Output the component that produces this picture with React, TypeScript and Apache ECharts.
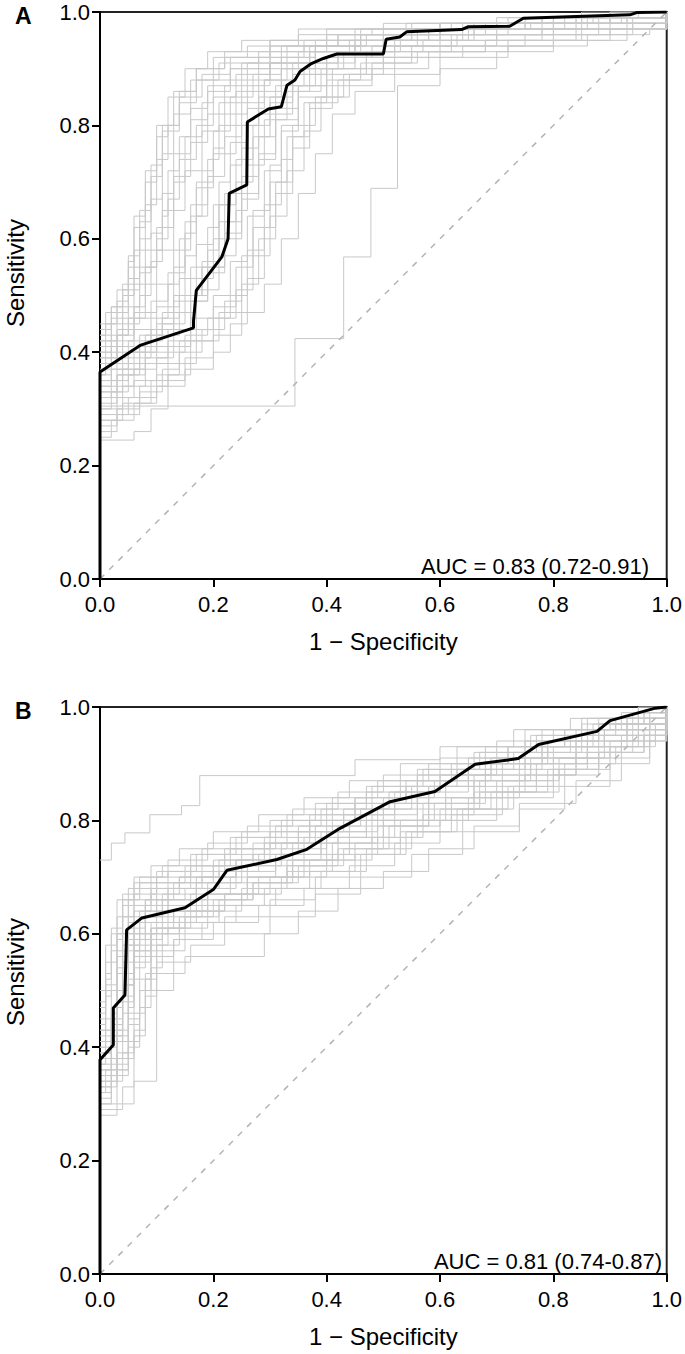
import React, { useEffect, useRef } from "react";
import * as echarts from "echarts";

// Tick values shared by both axes
const tickValues = [0, 0.2, 0.4, 0.6, 0.8, 1.0];

// Panel A: main ROC curve (1 - specificity, sensitivity)
const rocMainA: number[][] = [
  [0, 0], [0, 0.365], [0.0706, 0.412], [0.165, 0.443], [0.165, 0.455], [0.17, 0.509],
  [0.215, 0.568], [0.226, 0.6], [0.228, 0.68], [0.259, 0.695], [0.26, 0.806],
  [0.297, 0.829], [0.32, 0.833], [0.33, 0.871], [0.344, 0.88], [0.353, 0.895],
  [0.373, 0.909], [0.394, 0.918], [0.418, 0.926], [0.5, 0.926], [0.505, 0.952],
  [0.529, 0.956], [0.541, 0.965], [0.638, 0.969], [0.65, 0.974], [0.723, 0.975],
  [0.747, 0.989], [0.935, 0.995], [0.947, 0.999], [1, 1]
];

// Panel A: bootstrap ROC curves (step points)
const bootA: number[][][] = [
  [[0,0.42],[0.02,0.45],[0.04,0.5],[0.06,0.58],[0.08,0.66],[0.1,0.74],[0.12,0.8],[0.14,0.86],[0.17,0.9],[0.22,0.93],[0.3,0.95],[0.45,0.97],[0.6,0.98],[0.8,0.99],[0.95,1],[1,1]],
  [[0,0.4],[0.03,0.43],[0.06,0.48],[0.08,0.55],[0.1,0.62],[0.13,0.7],[0.15,0.78],[0.18,0.84],[0.2,0.88],[0.25,0.91],[0.33,0.94],[0.42,0.96],[0.55,0.97],[0.7,0.98],[0.9,0.99],[1,1]],
  [[0,0.36],[0.02,0.39],[0.05,0.42],[0.09,0.46],[0.12,0.52],[0.14,0.6],[0.16,0.66],[0.19,0.74],[0.21,0.8],[0.24,0.86],[0.28,0.9],[0.35,0.93],[0.45,0.95],[0.6,0.97],[0.75,0.98],[0.92,0.99],[1,1]],
  [[0,0.33],[0.03,0.36],[0.06,0.4],[0.1,0.43],[0.14,0.47],[0.17,0.53],[0.2,0.6],[0.22,0.68],[0.25,0.76],[0.28,0.82],[0.31,0.87],[0.36,0.9],[0.42,0.93],[0.5,0.95],[0.65,0.97],[0.85,0.99],[1,1]],
  [[0,0.3],[0.04,0.34],[0.08,0.38],[0.12,0.42],[0.16,0.46],[0.2,0.5],[0.23,0.56],[0.26,0.64],[0.29,0.72],[0.32,0.79],[0.35,0.85],[0.4,0.89],[0.47,0.92],[0.55,0.94],[0.7,0.96],[0.88,0.98],[1,1]],
  [[0,0.27],[0.03,0.3],[0.07,0.34],[0.12,0.38],[0.17,0.42],[0.21,0.47],[0.25,0.52],[0.28,0.6],[0.31,0.68],[0.34,0.76],[0.37,0.83],[0.41,0.87],[0.48,0.9],[0.58,0.93],[0.72,0.95],[0.9,0.97],[1,1]],
  [[0,0.305],[0.344,0.424],[0.43,0.568],[0.478,0.689],[0.525,0.87],[0.6,0.9],[0.7,0.93],[0.8,0.95],[0.93,0.97],[1,1]],
  [[0,0.245],[0.06,0.26],[0.09,0.3],[0.12,0.36],[0.16,0.42],[0.2,0.48],[0.24,0.55],[0.27,0.62],[0.3,0.7],[0.33,0.78],[0.36,0.84],[0.4,0.88],[0.46,0.91],[0.55,0.93],[0.68,0.95],[0.85,0.97],[1,1]],
  [[0,0.38],[0.02,0.41],[0.04,0.45],[0.07,0.5],[0.09,0.56],[0.11,0.64],[0.12,0.72],[0.14,0.78],[0.16,0.83],[0.19,0.87],[0.23,0.9],[0.3,0.93],[0.4,0.95],[0.55,0.97],[0.7,0.98],[0.87,0.99],[1,1]],
  [[0,0.44],[0.02,0.48],[0.05,0.53],[0.07,0.6],[0.09,0.67],[0.11,0.75],[0.13,0.82],[0.16,0.88],[0.2,0.92],[0.26,0.94],[0.35,0.96],[0.48,0.97],[0.62,0.98],[0.78,0.99],[0.9,1],[1,1]],
  [[0,0.35],[0.04,0.38],[0.08,0.42],[0.11,0.47],[0.13,0.55],[0.15,0.63],[0.17,0.7],[0.2,0.76],[0.22,0.82],[0.26,0.87],[0.3,0.91],[0.37,0.94],[0.47,0.96],[0.6,0.97],[0.76,0.98],[0.93,0.99],[1,1]],
  [[0,0.32],[0.02,0.35],[0.05,0.39],[0.09,0.44],[0.13,0.49],[0.16,0.55],[0.19,0.62],[0.21,0.7],[0.23,0.77],[0.26,0.83],[0.29,0.88],[0.33,0.91],[0.38,0.94],[0.46,0.96],[0.6,0.98],[0.78,0.99],[1,1]],
  [[0,0.29],[0.05,0.32],[0.1,0.36],[0.14,0.4],[0.18,0.44],[0.22,0.49],[0.25,0.57],[0.27,0.65],[0.3,0.73],[0.32,0.8],[0.35,0.86],[0.39,0.9],[0.45,0.92],[0.52,0.94],[0.63,0.96],[0.8,0.97],[0.93,0.99],[1,1]],
  [[0,0.41],[0.03,0.44],[0.06,0.47],[0.1,0.52],[0.13,0.58],[0.16,0.64],[0.18,0.72],[0.2,0.79],[0.23,0.85],[0.27,0.89],[0.32,0.92],[0.38,0.95],[0.5,0.97],[0.68,0.98],[0.85,0.99],[1,1]],
  [[0,0.37],[0.03,0.4],[0.07,0.43],[0.11,0.45],[0.15,0.5],[0.18,0.56],[0.21,0.63],[0.24,0.7],[0.27,0.78],[0.3,0.84],[0.34,0.89],[0.4,0.92],[0.5,0.94],[0.62,0.96],[0.8,0.98],[0.94,0.99],[1,1]],
  [[0,0.34],[0.02,0.38],[0.04,0.42],[0.06,0.46],[0.08,0.52],[0.1,0.58],[0.13,0.65],[0.15,0.72],[0.18,0.79],[0.21,0.84],[0.25,0.88],[0.3,0.91],[0.37,0.93],[0.45,0.95],[0.58,0.97],[0.75,0.98],[0.9,0.99],[1,1]],
  [[0,0.43],[0.02,0.46],[0.04,0.52],[0.06,0.62],[0.08,0.7],[0.1,0.78],[0.12,0.85],[0.15,0.9],[0.19,0.93],[0.25,0.95],[0.35,0.97],[0.5,0.98],[0.7,0.99],[0.85,1],[1,1]],
  [[0,0.31],[0.03,0.34],[0.06,0.37],[0.1,0.4],[0.15,0.43],[0.19,0.46],[0.23,0.5],[0.26,0.58],[0.29,0.66],[0.32,0.74],[0.34,0.8],[0.38,0.85],[0.43,0.89],[0.5,0.92],[0.6,0.94],[0.75,0.96],[0.9,0.98],[1,1]],
  [[0,0.28],[0.04,0.31],[0.09,0.35],[0.15,0.39],[0.2,0.43],[0.25,0.47],[0.29,0.52],[0.32,0.6],[0.35,0.68],[0.38,0.75],[0.41,0.82],[0.45,0.86],[0.52,0.89],[0.6,0.92],[0.72,0.94],[0.86,0.96],[0.97,0.97],[1,1]],
  [[0,0.39],[0.01,0.42],[0.03,0.47],[0.05,0.55],[0.07,0.63],[0.09,0.71],[0.11,0.79],[0.14,0.84],[0.17,0.88],[0.21,0.91],[0.28,0.93],[0.36,0.95],[0.46,0.97],[0.64,0.98],[0.82,0.99],[1,1]],
  [[0,0.26],[0.03,0.29],[0.07,0.33],[0.11,0.37],[0.14,0.42],[0.17,0.5],[0.19,0.58],[0.21,0.66],[0.24,0.74],[0.27,0.8],[0.3,0.85],[0.34,0.89],[0.4,0.92],[0.48,0.94],[0.6,0.96],[0.78,0.98],[1,1]],
  [[0,0.4],[0.02,0.43],[0.05,0.46],[0.09,0.49],[0.12,0.54],[0.15,0.61],[0.17,0.69],[0.2,0.75],[0.24,0.8],[0.28,0.85],[0.32,0.9],[0.38,0.93],[0.46,0.95],[0.58,0.97],[0.72,0.98],[0.88,0.99],[1,1]],
  [[0,0.36],[0.01,0.39],[0.03,0.43],[0.05,0.48],[0.07,0.54],[0.09,0.61],[0.11,0.68],[0.13,0.75],[0.16,0.81],[0.19,0.86],[0.23,0.9],[0.28,0.92],[0.36,0.94],[0.46,0.96],[0.6,0.98],[0.8,0.99],[1,1]],
  [[0,0.33],[0.04,0.37],[0.08,0.41],[0.12,0.44],[0.16,0.49],[0.19,0.54],[0.22,0.6],[0.25,0.67],[0.28,0.74],[0.31,0.81],[0.35,0.87],[0.4,0.9],[0.47,0.93],[0.57,0.95],[0.7,0.97],[0.86,0.98],[1,1]],
  [[0,0.3],[0.02,0.33],[0.05,0.36],[0.08,0.39],[0.12,0.41],[0.16,0.44],[0.2,0.46],[0.24,0.51],[0.27,0.57],[0.3,0.64],[0.33,0.72],[0.36,0.79],[0.39,0.85],[0.44,0.89],[0.52,0.92],[0.64,0.94],[0.8,0.96],[0.94,0.98],[1,1]],
  [[0,0.42],[0.01,0.45],[0.03,0.49],[0.05,0.56],[0.06,0.64],[0.08,0.72],[0.1,0.8],[0.13,0.86],[0.17,0.9],[0.22,0.92],[0.3,0.94],[0.4,0.96],[0.55,0.98],[0.75,0.99],[1,1]],
  [[0,0.38],[0.03,0.41],[0.06,0.44],[0.1,0.48],[0.14,0.53],[0.17,0.59],[0.2,0.66],[0.23,0.73],[0.25,0.8],[0.28,0.86],[0.32,0.9],[0.37,0.93],[0.44,0.95],[0.55,0.96],[0.68,0.97],[0.84,0.99],[1,1]],
  [[0,0.35],[0.02,0.37],[0.05,0.4],[0.08,0.43],[0.11,0.46],[0.14,0.5],[0.18,0.55],[0.22,0.61],[0.25,0.68],[0.28,0.75],[0.31,0.82],[0.34,0.87],[0.38,0.91],[0.45,0.94],[0.56,0.96],[0.72,0.98],[0.9,0.99],[1,1]],
  [[0,0.28],[0.03,0.32],[0.06,0.35],[0.1,0.39],[0.13,0.44],[0.16,0.49],[0.19,0.55],[0.22,0.63],[0.25,0.71],[0.28,0.78],[0.31,0.83],[0.35,0.87],[0.41,0.9],[0.5,0.93],[0.62,0.95],[0.78,0.97],[0.94,0.98],[1,1]],
  [[0,0.45],[0.02,0.48],[0.04,0.51],[0.07,0.55],[0.1,0.6],[0.12,0.67],[0.14,0.74],[0.17,0.8],[0.2,0.85],[0.24,0.89],[0.3,0.92],[0.38,0.94],[0.5,0.96],[0.66,0.98],[0.84,0.99],[1,1]],
  [[0,0.32],[0.03,0.36],[0.07,0.4],[0.1,0.45],[0.13,0.5],[0.15,0.57],[0.17,0.64],[0.19,0.71],[0.22,0.78],[0.25,0.84],[0.29,0.88],[0.34,0.91],[0.42,0.93],[0.53,0.95],[0.66,0.97],[0.82,0.98],[1,1]],
  [[0,0.25],[0.02,0.28],[0.06,0.31],[0.1,0.34],[0.15,0.37],[0.2,0.4],[0.23,0.45],[0.26,0.53],[0.29,0.62],[0.31,0.7],[0.34,0.78],[0.37,0.84],[0.42,0.88],[0.48,0.91],[0.56,0.93],[0.68,0.95],[0.84,0.97],[1,1]],
  [[0,0.39],[0.02,0.42],[0.04,0.46],[0.06,0.52],[0.08,0.58],[0.11,0.65],[0.13,0.71],[0.16,0.77],[0.19,0.82],[0.22,0.87],[0.26,0.91],[0.32,0.94],[0.42,0.96],[0.56,0.97],[0.7,0.98],[0.86,0.99],[1,1]],
  [[0,0.34],[0.03,0.37],[0.07,0.41],[0.1,0.44],[0.13,0.47],[0.17,0.51],[0.21,0.57],[0.24,0.65],[0.26,0.73],[0.29,0.81],[0.33,0.86],[0.37,0.9],[0.43,0.93],[0.52,0.95],[0.64,0.97],[0.8,0.98],[1,1]],
  [[0,0.43],[0.01,0.47],[0.03,0.51],[0.05,0.57],[0.07,0.65],[0.09,0.73],[0.11,0.8],[0.14,0.85],[0.18,0.89],[0.23,0.92],[0.3,0.95],[0.4,0.97],[0.54,0.98],[0.72,0.99],[0.9,1],[1,1]]
];

// Panel B: main ROC curve
const rocMainB: number[][] = [
  [0, 0], [0, 0.378], [0.0235, 0.404], [0.0235, 0.469], [0.044, 0.492], [0.047, 0.607],
  [0.074, 0.628], [0.15, 0.646], [0.2, 0.678], [0.224, 0.712], [0.312, 0.731],
  [0.365, 0.749], [0.4235, 0.786], [0.512, 0.833], [0.591, 0.851], [0.662, 0.899],
  [0.738, 0.909], [0.774, 0.934], [0.877, 0.957], [0.9, 0.976], [0.98, 0.998], [1, 1]
];

// Panel B: bootstrap ROC curves (step points)
const bootB: number[][][] = [
  [[0,0.73],[0.02,0.76],[0.044,0.778],[0.088,0.81],[0.144,0.826],[0.176,0.879],[0.45,0.907],[0.6,0.93],[0.75,0.96],[0.85,0.98],[0.95,1],[1,1]],
  [[0,0.36],[0.02,0.42],[0.04,0.55],[0.05,0.62],[0.08,0.65],[0.12,0.68],[0.18,0.7],[0.24,0.73],[0.3,0.76],[0.38,0.79],[0.46,0.82],[0.55,0.86],[0.65,0.89],[0.75,0.92],[0.85,0.95],[0.93,0.98],[1,1]],
  [[0,0.33],[0.03,0.38],[0.05,0.48],[0.06,0.58],[0.09,0.61],[0.14,0.63],[0.2,0.66],[0.27,0.69],[0.34,0.72],[0.42,0.75],[0.5,0.79],[0.58,0.83],[0.67,0.87],[0.76,0.9],[0.86,0.94],[0.95,0.97],[1,1]],
  [[0,0.42],[0.01,0.5],[0.03,0.6],[0.05,0.66],[0.09,0.69],[0.15,0.72],[0.22,0.75],[0.3,0.78],[0.37,0.81],[0.45,0.84],[0.53,0.87],[0.62,0.9],[0.72,0.93],[0.82,0.96],[0.92,0.98],[1,1]],
  [[0,0.29],[0.04,0.33],[0.06,0.42],[0.08,0.52],[0.1,0.57],[0.15,0.6],[0.22,0.63],[0.3,0.66],[0.38,0.7],[0.46,0.74],[0.54,0.78],[0.63,0.82],[0.72,0.86],[0.8,0.89],[0.88,0.93],[0.96,0.96],[1,1]],
  [[0,0.38],[0.02,0.45],[0.04,0.53],[0.06,0.6],[0.1,0.64],[0.16,0.67],[0.23,0.7],[0.31,0.73],[0.39,0.77],[0.47,0.8],[0.56,0.84],[0.66,0.88],[0.76,0.91],[0.86,0.95],[0.94,0.97],[1,1]],
  [[0,0.45],[0.01,0.52],[0.02,0.6],[0.04,0.67],[0.07,0.7],[0.12,0.73],[0.19,0.76],[0.26,0.79],[0.34,0.82],[0.42,0.85],[0.5,0.88],[0.6,0.91],[0.7,0.94],[0.8,0.96],[0.9,0.98],[1,1]],
  [[0,0.31],[0.02,0.35],[0.05,0.4],[0.07,0.5],[0.09,0.56],[0.13,0.59],[0.2,0.62],[0.28,0.65],[0.36,0.68],[0.44,0.72],[0.52,0.76],[0.6,0.8],[0.7,0.84],[0.8,0.88],[0.88,0.92],[0.96,0.95],[1,1]],
  [[0,0.4],[0.02,0.47],[0.03,0.56],[0.05,0.63],[0.08,0.66],[0.13,0.69],[0.2,0.72],[0.27,0.74],[0.35,0.78],[0.43,0.81],[0.52,0.85],[0.6,0.88],[0.7,0.91],[0.79,0.94],[0.88,0.97],[0.96,0.99],[1,1]],
  [[0,0.28],[0.03,0.3],[0.06,0.34],[0.1,0.36],[0.1,0.5],[0.13,0.55],[0.16,0.58],[0.22,0.6],[0.3,0.63],[0.38,0.67],[0.46,0.7],[0.55,0.74],[0.64,0.78],[0.74,0.83],[0.84,0.87],[0.92,0.91],[0.97,0.95],[1,1]],
  [[0,0.35],[0.03,0.41],[0.05,0.52],[0.07,0.59],[0.11,0.62],[0.17,0.65],[0.25,0.68],[0.33,0.71],[0.41,0.74],[0.49,0.77],[0.57,0.81],[0.66,0.85],[0.75,0.88],[0.84,0.92],[0.92,0.95],[1,1]],
  [[0,0.47],[0.01,0.55],[0.03,0.63],[0.05,0.68],[0.1,0.71],[0.16,0.74],[0.23,0.77],[0.3,0.8],[0.38,0.83],[0.47,0.86],[0.56,0.89],[0.66,0.92],[0.77,0.95],[0.87,0.97],[0.95,0.99],[1,1]],
  [[0,0.34],[0.02,0.38],[0.04,0.46],[0.06,0.54],[0.08,0.6],[0.12,0.63],[0.18,0.66],[0.26,0.69],[0.33,0.72],[0.4,0.76],[0.48,0.8],[0.57,0.83],[0.66,0.87],[0.75,0.9],[0.84,0.93],[0.93,0.96],[1,1]],
  [[0,0.3],[0.03,0.36],[0.05,0.44],[0.07,0.5],[0.1,0.53],[0.15,0.56],[0.29,0.6],[0.35,0.64],[0.42,0.68],[0.5,0.71],[0.58,0.75],[0.66,0.79],[0.74,0.82],[0.82,0.86],[0.9,0.9],[0.97,0.94],[1,1]],
  [[0,0.43],[0.02,0.5],[0.04,0.58],[0.06,0.64],[0.09,0.67],[0.14,0.7],[0.21,0.73],[0.29,0.76],[0.37,0.8],[0.45,0.83],[0.54,0.86],[0.63,0.89],[0.73,0.92],[0.83,0.95],[0.91,0.97],[1,1]],
  [[0,0.37],[0.01,0.42],[0.03,0.5],[0.05,0.57],[0.07,0.62],[0.11,0.66],[0.17,0.69],[0.25,0.72],[0.32,0.75],[0.4,0.78],[0.49,0.82],[0.58,0.86],[0.68,0.89],[0.78,0.93],[0.87,0.96],[0.95,0.98],[1,1]],
  [[0,0.32],[0.02,0.37],[0.05,0.47],[0.06,0.55],[0.09,0.6],[0.14,0.62],[0.21,0.65],[0.29,0.68],[0.37,0.71],[0.45,0.74],[0.53,0.78],[0.62,0.81],[0.71,0.85],[0.81,0.89],[0.9,0.93],[0.97,0.96],[1,1]],
  [[0,0.5],[0.01,0.58],[0.03,0.66],[0.06,0.7],[0.11,0.72],[0.18,0.75],[0.25,0.78],[0.33,0.81],[0.41,0.84],[0.49,0.87],[0.58,0.9],[0.68,0.93],[0.78,0.96],[0.88,0.98],[1,1]],
  [[0,0.39],[0.02,0.44],[0.04,0.51],[0.06,0.57],[0.1,0.61],[0.15,0.64],[0.22,0.67],[0.28,0.7],[0.36,0.74],[0.44,0.77],[0.52,0.8],[0.61,0.84],[0.7,0.87],[0.8,0.91],[0.89,0.95],[0.97,0.97],[1,1]],
  [[0,0.41],[0.03,0.48],[0.04,0.57],[0.05,0.61],[0.08,0.64],[0.12,0.66],[0.19,0.69],[0.26,0.72],[0.34,0.76],[0.42,0.79],[0.5,0.83],[0.58,0.86],[0.68,0.9],[0.78,0.93],[0.88,0.96],[0.97,0.98],[1,1]],
  [[0,0.37],[0.02,0.4],[0.03,0.48],[0.05,0.58],[0.07,0.63],[0.1,0.66],[0.15,0.68],[0.21,0.71],[0.28,0.74],[0.36,0.77],[0.44,0.8],[0.52,0.83],[0.61,0.87],[0.71,0.9],[0.8,0.93],[0.89,0.96],[0.97,0.99],[1,1]],
  [[0,0.44],[0.01,0.49],[0.02,0.57],[0.04,0.63],[0.06,0.67],[0.1,0.7],[0.16,0.72],[0.23,0.75],[0.31,0.79],[0.39,0.82],[0.47,0.85],[0.56,0.88],[0.65,0.91],[0.75,0.94],[0.85,0.97],[0.94,0.99],[1,1]],
  [[0,0.3],[0.02,0.34],[0.04,0.39],[0.06,0.46],[0.08,0.53],[0.1,0.58],[0.14,0.61],[0.19,0.64],[0.25,0.67],[0.32,0.7],[0.4,0.73],[0.48,0.77],[0.56,0.8],[0.65,0.84],[0.74,0.88],[0.84,0.91],[0.92,0.94],[1,1]],
  [[0,0.48],[0.01,0.53],[0.02,0.61],[0.04,0.66],[0.07,0.69],[0.12,0.71],[0.17,0.74],[0.24,0.77],[0.32,0.8],[0.4,0.83],[0.48,0.86],[0.57,0.89],[0.67,0.92],[0.76,0.95],[0.86,0.98],[0.95,1],[1,1]],
  [[0,0.35],[0.03,0.39],[0.05,0.45],[0.07,0.52],[0.09,0.58],[0.12,0.61],[0.16,0.64],[0.22,0.67],[0.3,0.7],[0.37,0.73],[0.45,0.76],[0.53,0.8],[0.62,0.84],[0.71,0.87],[0.81,0.91],[0.9,0.94],[0.98,0.97],[1,1]],
  [[0,0.41],[0.02,0.46],[0.03,0.54],[0.05,0.6],[0.08,0.63],[0.11,0.67],[0.17,0.7],[0.24,0.73],[0.32,0.76],[0.4,0.8],[0.48,0.83],[0.56,0.87],[0.65,0.9],[0.75,0.93],[0.84,0.96],[0.93,0.98],[1,1]],
  [[0,0.32],[0.01,0.36],[0.03,0.43],[0.05,0.51],[0.06,0.57],[0.09,0.62],[0.13,0.64],[0.19,0.67],[0.26,0.7],[0.34,0.73],[0.42,0.77],[0.5,0.8],[0.59,0.83],[0.68,0.86],[0.77,0.9],[0.86,0.93],[0.95,0.96],[1,1]],
  [[0,0.39],[0.02,0.43],[0.04,0.5],[0.05,0.59],[0.07,0.64],[0.1,0.68],[0.16,0.71],[0.22,0.74],[0.29,0.77],[0.37,0.8],[0.45,0.84],[0.54,0.87],[0.63,0.9],[0.72,0.93],[0.82,0.96],[0.91,0.98],[1,1]],
  [[0,0.34],[0.03,0.38],[0.06,0.43],[0.08,0.49],[0.1,0.55],[0.13,0.59],[0.18,0.62],[0.24,0.65],[0.31,0.68],[0.39,0.71],[0.47,0.75],[0.55,0.78],[0.64,0.82],[0.73,0.86],[0.82,0.9],[0.91,0.93],[0.98,0.96],[1,1]],
  [[0,0.46],[0.01,0.51],[0.03,0.59],[0.04,0.65],[0.06,0.69],[0.09,0.72],[0.14,0.75],[0.2,0.78],[0.28,0.81],[0.36,0.84],[0.44,0.87],[0.53,0.9],[0.63,0.93],[0.73,0.96],[0.83,0.98],[0.92,0.99],[1,1]],
  [[0,0.36],[0.02,0.41],[0.04,0.49],[0.06,0.56],[0.09,0.61],[0.13,0.64],[0.19,0.67],[0.26,0.7],[0.33,0.73],[0.41,0.76],[0.49,0.79],[0.58,0.82],[0.67,0.85],[0.77,0.89],[0.86,0.92],[0.94,0.95],[1,1]],
  [[0,0.4],[0.01,0.45],[0.03,0.53],[0.04,0.6],[0.06,0.65],[0.09,0.68],[0.14,0.7],[0.2,0.73],[0.27,0.76],[0.35,0.79],[0.43,0.82],[0.51,0.85],[0.6,0.88],[0.69,0.91],[0.79,0.94],[0.88,0.97],[0.96,0.99],[1,1]],
  [[0,0.33],[0.02,0.36],[0.05,0.41],[0.07,0.47],[0.09,0.54],[0.11,0.6],[0.15,0.63],[0.21,0.66],[0.27,0.69],[0.35,0.72],[0.43,0.75],[0.51,0.79],[0.6,0.82],[0.69,0.85],[0.79,0.89],[0.88,0.92],[0.96,0.95],[1,1]],
  [[0,0.43],[0.02,0.47],[0.04,0.55],[0.06,0.62],[0.08,0.66],[0.12,0.69],[0.18,0.72],[0.25,0.75],[0.33,0.78],[0.41,0.81],[0.5,0.84],[0.59,0.87],[0.69,0.9],[0.79,0.93],[0.89,0.96],[0.97,0.98],[1,1]],
  [[0,0.38],[0.03,0.42],[0.05,0.51],[0.06,0.59],[0.08,0.63],[0.12,0.65],[0.17,0.68],[0.24,0.71],[0.31,0.74],[0.39,0.78],[0.47,0.81],[0.56,0.85],[0.65,0.88],[0.74,0.91],[0.84,0.94],[0.93,0.97],[1,1]]
];

const diagonal: number[][] = [[0, 0], [1, 1]];

const panelLabels = ["A", "B"];
const aucLabels = ["AUC = 0.83 (0.72-0.91)", "AUC = 0.81 (0.74-0.87)"];
const xTitle = "1 \u2212 Specificity";
const yTitle = "Sensitivity";

const FONT = "'Liberation Sans', Arial, Helvetica, sans-serif";

export default function App() {
  const ref = useRef<HTMLDivElement>(null);

  useEffect(() => {
    document.body.style.margin = "0";
    if (!ref.current) return;
    const chart = echarts.init(ref.current, undefined, { renderer: "svg" });

    const grids = [
      { left: 100, top: 12, width: 567, height: 567 },
      { left: 100, top: 707, width: 567, height: 567 },
    ];
    const yTitleCenters = [273, 972];
    const aucRight = [649, 662];

    const axisCommon = {
      type: "value",
      min: 0,
      max: 1,
      interval: 0.2,
      splitLine: { show: false },
      axisLine: { show: true, onZero: false, lineStyle: { color: "#000", width: 2 } },
      axisTick: { show: true, length: 8, lineStyle: { color: "#000", width: 2 } },
      axisLabel: {
        color: "#000",
        fontSize: 22,
        fontFamily: FONT,
        formatter: (v: number) => v.toFixed(1),
      },
    };

    const xAxes = grids.map((_, i) => ({
      ...axisCommon,
      gridIndex: i,
      name: xTitle,
      nameLocation: "middle",
      nameGap: 50,
      nameTextStyle: { color: "#000", fontSize: 24, fontFamily: FONT },
      axisLabel: { ...axisCommon.axisLabel, margin: 14 },
    }));
    const yAxes = grids.map((_, i) => ({
      ...axisCommon,
      gridIndex: i,
      axisLabel: { ...axisCommon.axisLabel, margin: 10 },
    }));

    const series: any[] = [];
    const boots = [bootA, bootB];
    const mains = [rocMainA, rocMainB];
    boots.forEach((set, gi) => {
      set.forEach((curve, ci) => {
        series.push({
          name: `boot${gi}-${ci}`,
          type: "line",
          xAxisIndex: gi,
          yAxisIndex: gi,
          data: curve,
          step: "end",
          showSymbol: false,
          symbol: "none",
          silent: true,
          lineStyle: { color: "#c8c8c8", width: 1 },
          z: 2,
        });
      });
      series.push({
        name: `diag${gi}`,
        type: "line",
        xAxisIndex: gi,
        yAxisIndex: gi,
        data: diagonal,
        symbol: "none",
        silent: true,
        lineStyle: { color: "#b4b4b4", width: 1.5, type: [6, 7] },
        z: 3,
      });
      series.push({
        name: `main${gi}`,
        type: "line",
        xAxisIndex: gi,
        yAxisIndex: gi,
        data: mains[gi],
        symbol: "none",
        silent: true,
        lineStyle: { color: "#000", width: 3 },
        z: 4,
      });
    });

    const graphics: any[] = [];
    grids.forEach((g, i) => {
      graphics.push({
        type: "text",
        left: 15,
        top: g.top - 8,
        style: { text: panelLabels[i], font: `bold 23px ${FONT}`, fill: "#000" },
      });
      graphics.push({
        type: "text",
        x: 15,
        y: yTitleCenters[i],
        rotation: Math.PI / 2,
        style: {
          text: yTitle,
          font: `24px ${FONT}`,
          fill: "#000",
          textAlign: "center",
          textVerticalAlign: "middle",
        },
      });
      graphics.push({
        type: "text",
        x: aucRight[i],
        y: g.top + g.height - 13,
        style: {
          text: aucLabels[i],
          font: `22px ${FONT}`,
          fill: "#000",
          textAlign: "right",
          textVerticalAlign: "middle",
        },
      });
    });

    chart.setOption({
      animation: false,
      backgroundColor: "#fff",
      grid: grids.map((g) => ({ ...g, show: true, borderColor: "#222", borderWidth: 2, backgroundColor: "transparent" })),
      xAxis: xAxes,
      yAxis: yAxes,
      series,
      graphic: graphics,
    });

    return () => chart.dispose();
  }, []);

  return <div ref={ref} style={{ width: 685, height: 1354 }} />;
}
